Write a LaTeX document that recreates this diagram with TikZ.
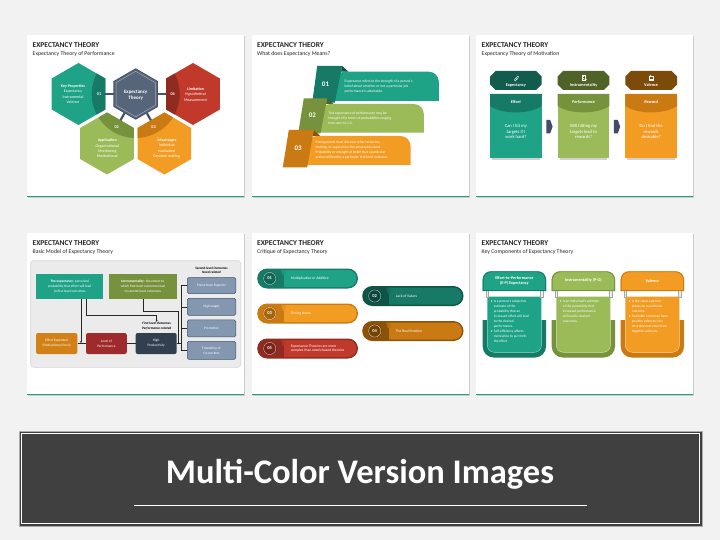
\documentclass[tikz,border=0pt]{standalone}
\usepackage{fontspec}
\setmainfont{Carlito}
\usetikzlibrary{arrows.meta}
\definecolor{bg}{HTML}{F2F2F2}
\definecolor{txt}{HTML}{262626}
\definecolor{tealL}{HTML}{1FA386}
\definecolor{tealD}{HTML}{177A66}
\definecolor{tealX}{HTML}{0F5447}
\definecolor{grnL}{HTML}{9BBB59}
\definecolor{grnD}{HTML}{76923C}
\definecolor{grnX}{HTML}{4F6228}
\definecolor{orgL}{HTML}{F39C24}
\definecolor{orgD}{HTML}{C97A12}
\definecolor{orgX}{HTML}{8A520A}
\definecolor{redL}{HTML}{C0392B}
\definecolor{redD}{HTML}{902B21}
\definecolor{slate}{HTML}{56657A}
\definecolor{slateD}{HTML}{44546A}
\definecolor{navy}{HTML}{323F4F}
\definecolor{bluegray}{HTML}{8497B0}
\definecolor{bannerc}{HTML}{404040}
\definecolor{darkred}{HTML}{9E2A2B}
\definecolor{arrowc}{HTML}{3F4E66}
\tikzset{
  ttl/.style={anchor=west, inner sep=0, text=txt, font=\bfseries\fontsize{7.5}{8}\selectfont},
  sub/.style={anchor=west, inner sep=0, text=txt, font=\fontsize{5.8}{6.5}\selectfont},
  hx/.style={inner sep=0, text=white, align=center, font=\fontsize{4}{5.2}\selectfont},
  hxn/.style={inner sep=0, text=white, font=\bfseries\fontsize{4.2}{5}\selectfont},
  rb/.style={anchor=west, inner sep=0, text=white, align=left, font=\fontsize{3.6}{5}\selectfont},
  rbn/.style={inner sep=0, text=white, font=\bfseries\fontsize{7}{8}\selectfont},
  mh/.style={inner sep=0, text=white, font=\bfseries\fontsize{4.3}{5}\selectfont},
  mt/.style={inner sep=0, text=white, font=\bfseries\itshape\fontsize{4.3}{5}\selectfont},
  mq/.style={inner sep=0, text=white, align=center, font=\fontsize{4.6}{5.4}\selectfont},
  bx/.style={inner sep=0, text=white, align=center, font=\fontsize{3.5}{5}\selectfont},
  lbl/.style={inner sep=0, text=black, align=center, font=\bfseries\itshape\fontsize{3.4}{4.4}\selectfont},
  conn/.style={draw=txt, line width=0.5pt},
  tip/.style={-{Latex[length=2.2pt,width=2pt]}},
  numw/.style={inner sep=0, text=white, font=\bfseries\fontsize{4.5}{5}\selectfont},
  pt/.style={anchor=west, inner sep=0, text=white, align=left, font=\fontsize{3.7}{4.6}\selectfont},
  hd/.style={inner sep=0, text=white, align=center, font=\bfseries\fontsize{4.2}{5.4}\selectfont},
  bt/.style={anchor=north west, inner sep=0, text=white, align=left, font=\fontsize{3.5}{4.9}\selectfont},
}
\newcommand{\slidebg}[2]{%
  \fill[gray!40] (1.3,1.3) rectangle (218.3,163.3);
  \fill[white] (0,0) rectangle (217,162);
  \draw[tealL, line width=1.1pt] (0,161.45) -- (217,161.45);
  \node[ttl] (#1t) at (5.5,9.7) {EXPECTANCY THEORY};
  \node[sub] (#1s) at (5.5,19) {#2};}
\newcommand{\hexfill}[4]{\fill[#4] (#1,#2) +(90:#3) -- +(30:#3) -- +(-30:#3) -- +(-90:#3) -- +(-150:#3) -- +(150:#3) -- cycle;}
\newcommand{\hexlens}[4]{\begin{scope}\clip (#1,#2) +(90:#3) -- +(30:#3) -- +(-30:#3) -- +(-90:#3) -- +(-150:#3) -- +(150:#3) -- cycle;
  \fill[#4] (108.7,59) circle[radius=44];\end{scope}}
\newcommand{\pill}[8]{%
  \fill[#5, rounded corners=10] (#2,#3) rectangle (#4,#3+20);
  \fill[#6, rounded corners=8.5] (#2+27,#3+1.5) -- (#4-1.5,#3+1.5) -- (#4-1.5,#3+18.5) -- (#2+27,#3+18.5);
  \fill[#6!70!#5] (#2+24,#3+1.5) -- (#2+28.5,#3+1.5) -- (#2+28.5,#3+7) -- (#2+25.5,#3+7) -- cycle;
  \fill[#5!82!black] (#2+12.5,#3+10) circle[radius=7];
  \draw[#6!45!white, line width=0.45pt] (#2+12.5,#3+10) circle[radius=6.1];
  \node[numw] (#1n) at (#2+12.5,#3+10) {#7};
  \node[pt] (#1x) at (#2+33.5,#3+10) {#8};}
\newcommand{\mcol}[8]{%
  \fill[gray!35] (#2+2,123.3) rectangle (#2+49.7,124.6);
  \fill[#3] (#2+5.5,36) -- (#2+46.2,36) -- (#2+51.7,41.5) -- (#2+51.7,49.5) -- (#2+46.2,55) -- (#2+5.5,55) -- (#2,49.5) -- (#2,41.5) -- cycle;
  \fill[#5] (#2,59) rectangle (#2+51.7,123.3);
  \fill[#4] (#2,59) -- (#2+51.7,59) -- (#2+51.7,71) .. controls (#2+39.7,79.5) and (#2+12,79.5) .. (#2,71) -- cycle;
  \node[mh] (#1h) at (#2+25.85,50.2) {#6};
  \node[mt] (#1m) at (#2+25.85,67) {#7};
  \node[mq] (#1q) at (#2+25.85,96.6) {#8};}
\newcommand{\kcard}[7]{%
  \fill[#4, rounded corners=11] (#2,87) -- (#2,124.5) -- (#2+63.3,124.5) -- (#2+63.3,87);
  \fill[#3, rounded corners=7] (#2+4.6,63.7) -- (#2+4.6,119.3) -- (#2+58.7,119.3) -- (#2+58.7,63.7);
  \draw[white!55!#3, line width=0.4pt, rounded corners=7] (#2+4.6,87) -- (#2+4.6,119.3) -- (#2+58.7,119.3) -- (#2+58.7,87);
  \filldraw[fill=white!85!gray, draw=gray!70, line width=0.3pt] (#2+3.3,57.5) rectangle (#2+5.6,63.7);
  \filldraw[fill=white!85!gray, draw=gray!70, line width=0.3pt] (#2+57.7,57.5) rectangle (#2+60,63.7);
  \fill[#3, rounded corners=8] (#2,58) -- (#2,38.3) -- (#2+63.3,38.3) -- (#2+63.3,58);
  \draw[#4, line width=0.9pt, rounded corners=8] (#2+0.45,58) -- (#2+0.45,38.75) -- (#2+62.85,38.75) -- (#2+62.85,58);
  \draw[#4, line width=0.9pt] (#2,57.55) -- (#2+63.3,57.55);
  \node[hd] (#1h) at (#2+31.65,#7) {#5};
  \node[bt] (#1b) at (#2+8,67.2) {#6};}
\begin{document}
\begin{tikzpicture}[x=1pt,y=-1pt]
\useasboundingbox (0,0) rectangle (720,540);
\fill[bg] (0,0) rectangle (720,540);

% ---------------- Slide 1 ----------------
\begin{scope}[shift={(27,35)}]
\slidebg{sa}{Expectancy Theory of Performance}
\hexfill{51.5}{59}{31}{tealL}
\hexfill{166}{59}{31}{redL}
\hexfill{80}{108.5}{31}{grnL}
\hexfill{137.4}{108.5}{31}{orgL}
\hexlens{51.5}{59}{31}{tealD}
\hexlens{166}{59}{31}{redD}
\hexlens{80}{108.5}{31}{grnD}
\hexlens{137.4}{108.5}{31}{orgD}
\draw[slateD, line width=2.2pt] (78.3,59) -- (86.5,59);
\draw[slateD, line width=2.2pt] (130.9,59) -- (139.2,59);
\draw[slateD, line width=2.2pt] (97.5,78.2) -- (93.5,85.3);
\draw[slateD, line width=2.2pt] (119.9,78.2) -- (123.9,85.3);
\hexfill{108.7}{59}{25.7}{slateD}
\hexfill{108.7}{59}{24.7}{slate}
\draw[white!45!slate, line width=0.5pt] (108.7,59) +(90:22.7) -- +(30:22.7) -- +(-30:22.7) -- +(-90:22.7) -- +(-150:22.7) -- +(150:22.7) -- cycle;
\node[hx, font=\bfseries\fontsize{5}{6.3}\selectfont] (sac) at (108.7,60.2) {Expectancy\\Theory};
\node[hx] (sak) at (46,59.2) {\textbf{Key Properties}\\Expectancy\\Instrumental\\Valence};
\node[hx] (sal) at (168.5,59.6) {\textbf{Limitation}\\Hypothetical\\Measurement};
\node[hx] (saa) at (80.3,113.4) {\textbf{Application}\\Organizational\\Monitoring\\Motivational};
\node[hx] (sav) at (139.7,113.4) {\textbf{Advantages}\\Individual\\evaluation\\Decision making};
\node[hxn] (sa1) at (72,59.3) {01};
\node[hxn] (sa2) at (89.7,91.7) {02};
\node[hxn] (sa3) at (126.5,91.7) {03};
\node[hxn] (sa4) at (145.7,59.3) {04};
\end{scope}

% ---------------- Slide 2 ----------------
\begin{scope}[shift={(251.5,35)}]
\slidebg{sb}{What does Expectancy Means?}
\fill[tealL, rounded corners=10] (83.3,66) -- (83.3,36.7) -- (187.3,36.7) -- (187.3,66);
\fill[tealX] (90.7,31) -- (97,36.7) -- (89.5,36.7) -- cycle;
\fill[tealD] (65.7,31) -- (90.7,31) -- (83.3,67.7) -- (60.7,67.7) -- cycle;
\fill[grnL, rounded corners=10] (69,97.7) -- (69,69) -- (172.3,69) -- (172.3,97.7);
\fill[grnX] (75.7,63.3) -- (82,69) -- (74.5,69) -- cycle;
\fill[grnD] (52.3,63.3) -- (75.7,63.3) -- (69,98.3) -- (46.7,98.3) -- cycle;
\fill[orgL, rounded corners=10] (55.7,130) -- (55.7,101) -- (159,101) -- (159,130);
\fill[orgX] (62.3,95) -- (68.7,101) -- (61,101) -- cycle;
\fill[orgD] (37.3,95) -- (62.3,95) -- (55.7,132.3) -- (31.3,132.3) -- cycle;
\node[rbn] (sb1) at (74,48.8) {01};
\node[rbn] (sb2) at (60.9,80.6) {02};
\node[rbn] (sb3) at (46.6,113.2) {03};
\node[rb] (sbx1) at (93,51.7) {Expectance refers to the strength of a person's\\belief about whether or not a particular job\\performance is attainable.};
\node[rb] (sbx2) at (76.7,83.4) {This expectance of performance may be\\thought of in terms of probabilities ranging\\from zero to 1.0.};
\node[rb, font=\fontsize{3.6}{5.1}\selectfont] (sbx3) at (64,115) {Management must discover what resources,\\training, or supervision the employees need.\\Probability or strength of belief that a particular\\action will lead to a particular first-level outcome.};
\end{scope}

% ---------------- Slide 3 ----------------
\begin{scope}[shift={(476,35)}]
\slidebg{sc}{Expectancy Theory of Motivation}
\mcol{sc1}{14}{tealX!80!tealD}{tealD}{tealL}{Expectancy}{Effort}{Can I hit my\\targets if I\\work hard?}
\mcol{sc2}{81.7}{grnX}{grnD}{grnL}{Instrumentality}{Performance}{Will hitting my\\targets lead to\\rewards?}
\mcol{sc3}{149.3}{orgX!90!black}{orgD}{orgL}{Valence}{Reward}{Do I find the\\rewards\\desirable?}
\draw[white, line width=0.35pt] (38.3,45) -- (41.6,41) -- (42.6,42) -- (39.3,46) -- cycle (40,43.7) -- (41.2,44.8);
\draw[white, line width=0.35pt] (106.2,40) rectangle (108.8,45.2) (106.8,41.5) -- (108.2,41.5) (106.8,42.8) -- (108.2,42.8);
\draw[white, line width=0.35pt] (109.6,44.6) circle[radius=0.9];
\draw[white, line width=0.35pt] (173.3,41.3) rectangle (177.3,44.3) (172.8,45) -- (177.8,45);
\fill[white] (174.3,40.3) circle[radius=0.6];
\fill[arrowc] (70.3,85) -- (74.2,85) -- (76.6,91.7) -- (74.2,98.3) -- (70.3,98.3) -- cycle;
\fill[arrowc] (137.9,85) -- (141.8,85) -- (144.2,91.7) -- (141.8,98.3) -- (137.9,98.3) -- cycle;
\end{scope}

% ---------------- Slide 4 ----------------
\begin{scope}[shift={(27,233)}]
\slidebg{sd}{Basic Model of Expectancy Theory}
\filldraw[fill=gray!16, draw=gray!32, line width=0.6pt, rounded corners=3] (3.7,27.7) rectangle (213.7,134.3);
\node[bx, fill=tealL, minimum width=67.3pt, minimum height=25pt] (sda) at (42.7,53.5) {\textbf{The expectancy}: perceived\\probability that effort will lead\\to first-level outcomes};
\node[bx, fill=grnD, minimum width=67.7pt, minimum height=25pt] (sdb) at (115.8,53.5) {\textbf{Instrumentality}: the extent to\\which first-level outcomes lead\\to second-level outcomes};
\node[bx, fill=orgD!80!orgL, rounded corners=2, minimum width=41.3pt, minimum height=21pt] (sdc) at (29.7,110.5) {Effort Expended\\(Motivational force)};
\node[bx, fill=darkred, rounded corners=2, minimum width=40.7pt, minimum height=21pt] (sdd) at (79.4,110.5) {Level of\\Performance};
\node[bx, fill=navy, rounded corners=2, minimum width=41pt, minimum height=21pt] (sde) at (129.2,110.5) {High\\Productivity};
\node[bx, fill=bluegray, draw=slateD, line width=0.5pt, rounded corners=1.5, minimum width=48.5pt, minimum height=16pt] (sdf) at (184.5,52.5) {Praise from Superior};
\node[bx, fill=bluegray, draw=slateD, line width=0.5pt, rounded corners=1.5, minimum width=48.5pt, minimum height=17pt] (sdg) at (184.5,73.8) {High wages};
\node[bx, fill=bluegray, draw=slateD, line width=0.5pt, rounded corners=1.5, minimum width=48.5pt, minimum height=17pt] (sdh) at (184.5,95.4) {Promotion};
\node[bx, fill=bluegray, draw=slateD, line width=0.5pt, rounded corners=1.5, minimum width=48.5pt, minimum height=18pt] (sdi) at (184.5,117.3) {Friendship of\\Co-workers};
\node[lbl] (sdj) at (184.5,37.6) {Second-level Outcomes\\Need-related};
\node[lbl] (sdk) at (129.7,92.9) {First-level Outcomes\\Performance-related};
\coordinate (sdp1) at (54,110.5);
\coordinate (sdp2) at (59.7,82);
\coordinate (sdp3) at (151.7,78.7);
\coordinate (sdbr) at (153.8,0);
\draw[conn, tip] (sda.south -| sdp1) -- (sdp1);
\draw[conn, tip] (sda.south -| sdp2) -- (sdp2) -| (sdk.north);
\draw[conn] (sdb.south) |- (sdp3) -- (sdp3 |- sde.east);
\draw[conn] (sdc.east) -- (sdd.west);
\draw[conn] (sdd.east) -- (sde.west);
\draw[conn] (sde.east) -- (sde.east -| sdbr);
\draw[conn] (sdf.west -| sdbr) -- (sdi.west -| sdbr);
\draw[conn] (sdf.west -| sdbr) -- (sdf.west);
\draw[conn] (sdg.west -| sdbr) -- (sdg.west);
\draw[conn] (sdh.west -| sdbr) -- (sdh.west);
\draw[conn] (sdi.west -| sdbr) -- (sdi.west);
\end{scope}

% ---------------- Slide 5 ----------------
\begin{scope}[shift={(251.5,233)}]
\slidebg{se}{Critique of Expectancy Theory}
\pill{sep1}{5.7}{35.5}{106.5}{tealD}{tealL}{01}{Multiplicative or Additive}
\pill{sep2}{110.7}{53}{212}{tealX}{tealD}{02}{Lack of Values}
\pill{sep3}{5.7}{70.5}{106.5}{orgD}{orgL}{03}{Timing Issues}
\pill{sep4}{110.7}{88}{212}{orgX}{orgD}{04}{The Real Problem}
\pill{sep5}{5.7}{105.5}{106.5}{redD}{redL}{05}{Expectance Theories are more\\complex than needs-based theories}
\end{scope}

% ---------------- Slide 6 ----------------
\begin{scope}[shift={(476,233)}]
\slidebg{sf}{Key Components of Expectancy Theory}
\kcard{sf1}{6.7}{tealL}{tealD}{Effort-to-Performance\\(E-P) Expectancy}{\makebox[3pt][l]{•}Is a person's subjective\\\hspace*{3pt}estimate of the\\\hspace*{3pt}probability that an\\\hspace*{3pt}increased effort will lead\\\hspace*{3pt}to the desired\\\hspace*{3pt}performance.\\\makebox[3pt][l]{•}Self-efficiency affects\\\hspace*{3pt}motivation to put forth\\\hspace*{3pt}the effort}{47.6}
\kcard{sf2}{75.7}{grnL}{grnD}{Instrumentality (P-O)}{\makebox[3pt][l]{•}Is an individual's estimate\\\hspace*{3pt}of the probability that\\\hspace*{3pt}increased performance\\\hspace*{3pt}will lead to desired\\\hspace*{3pt}outcomes.}{47.7}
\kcard{sf3}{144.7}{orgL}{orgD}{Valence}{\makebox[3pt][l]{•}Is the value a person\\\hspace*{3pt}places on a particular\\\hspace*{3pt}outcome.\\\makebox[3pt][l]{•}Desirable outcomes have\\\hspace*{3pt}positive valences; less\\\hspace*{3pt}desirable outcomes have\\\hspace*{3pt}negative valences.}{47.7}
\end{scope}

% ---------------- Banner ----------------
\filldraw[fill=bannerc, draw=gray!65, line width=0.9pt] (19,431) rectangle (702,526);
\draw[white, line width=0.8pt] (21.8,433.8) rectangle (699.2,523.2);
\node[inner sep=0, text=white, font=\bfseries\fontsize{34.5}{40}\selectfont] (bnt) at (360,474) {Multi-Color Version Images};
\coordinate (bnl) at (134,505);
\coordinate (bnr) at (587,505);
\draw[white, line width=0.8pt] (bnl) -- (bnr);
\end{tikzpicture}
\end{document}
